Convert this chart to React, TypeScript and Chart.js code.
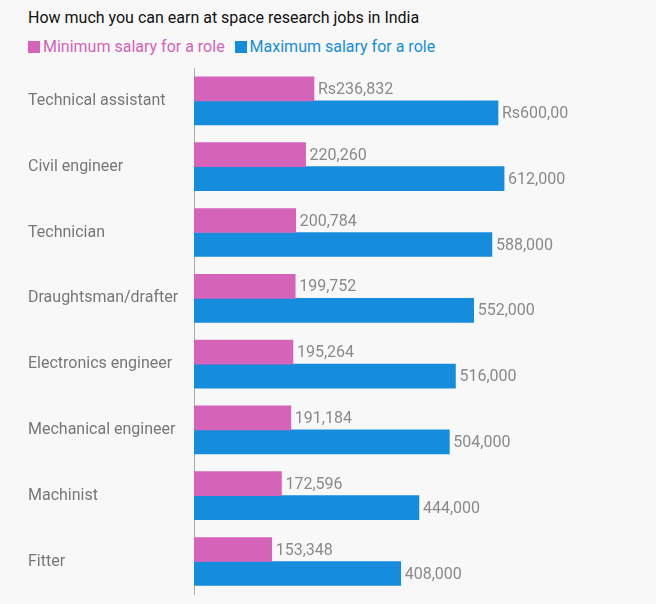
import React, { useEffect, useRef } from "react";
import { Chart, registerables } from "chart.js";
Chart.register(...registerables);

const categories = ["Technical assistant","Civil engineer","Technician","Draughtsman/drafter","Electronics engineer","Mechanical engineer","Machinist","Fitter"];
const minSalary = [236832,220260,200784,199752,195264,191184,172596,153348];
const maxSalary = [600000,612000,588000,552000,516000,504000,444000,408000];
const minLabels = ["Rs236,832","220,260","200,784","199,752","195,264","191,184","172,596","153,348"];
const maxLabels = ["Rs600,00","612,000","588,000","552,000","516,000","504,000","444,000","408,000"];
const PINK = "#d463b9";
const BLUE = "#168ddc";
const FONT = "Roboto, 'Liberation Sans', sans-serif";

export default function App() {
  const ref = useRef<HTMLCanvasElement>(null);
  useEffect(() => {
    const labelPlugin = {
      id: "vals",
      afterDatasetsDraw(chart: any) {
        const ctx = chart.ctx;
        ctx.save();
        ctx.font = `16px ${FONT}`;
        ctx.fillStyle = "#8a8a8a";
        ctx.textBaseline = "middle";
        chart.data.datasets.forEach((ds: any, di: number) => {
          const meta = chart.getDatasetMeta(di);
          const labs = di === 0 ? minLabels : maxLabels;
          meta.data.forEach((bar: any, i: number) => {
            ctx.fillText(labs[i], bar.x + 4, bar.y + 1);
          });
        });
        ctx.restore();
      },
    };
    const chart = new Chart(ref.current!, {
      type: "bar",
      data: {
        labels: categories,
        datasets: [
          { label: "min", data: minSalary, backgroundColor: PINK, barThickness: 24 },
          { label: "max", data: maxSalary, backgroundColor: BLUE, barThickness: 24 },
        ],
      },
      options: {
        indexAxis: "y",
        animation: false,
        responsive: false,
        layout: { padding: { top: 68, left: 28, right: 6, bottom: 8 } },
        plugins: { legend: { display: false }, title: { display: false }, tooltip: { enabled: false } },
        scales: {
          x: { display: false, min: 0, max: 900000 },
          y: {
            afterFit: (s: any) => { s.width = 166; },
            grid: { display: false },
            border: { color: "#aaa" },
            ticks: { crossAlign: "far", color: "#777", font: { family: FONT, size: 16 }, padding: 0 },
          },
        },
      },
      plugins: [labelPlugin],
    });
    return () => chart.destroy();
  }, []);
  return (
    <div style={{ position: "fixed", left: 0, top: 0, width: 656, height: 604, background: "#f8f8f8", fontFamily: FONT }}>
      <div style={{ position: "absolute", left: 28, top: 8, fontSize: 16, color: "#111" }}>How much you can earn at space research jobs in India</div>
      <div style={{ position: "absolute", left: 28, top: 37, fontSize: 16, display: "flex", alignItems: "center" }}>
        <span style={{ width: 12, height: 12, background: PINK, display: "inline-block", marginRight: 3 }} />
        <span style={{ color: PINK, marginRight: 10 }}>Minimum salary for a role</span>
        <span style={{ width: 12, height: 12, background: BLUE, display: "inline-block", marginRight: 3 }} />
        <span style={{ color: BLUE }}>Maximum salary for a role</span>
      </div>
      <canvas ref={ref} width={656} height={604} style={{ position: "absolute", left: 0, top: 0 }} />
    </div>
  );
}
